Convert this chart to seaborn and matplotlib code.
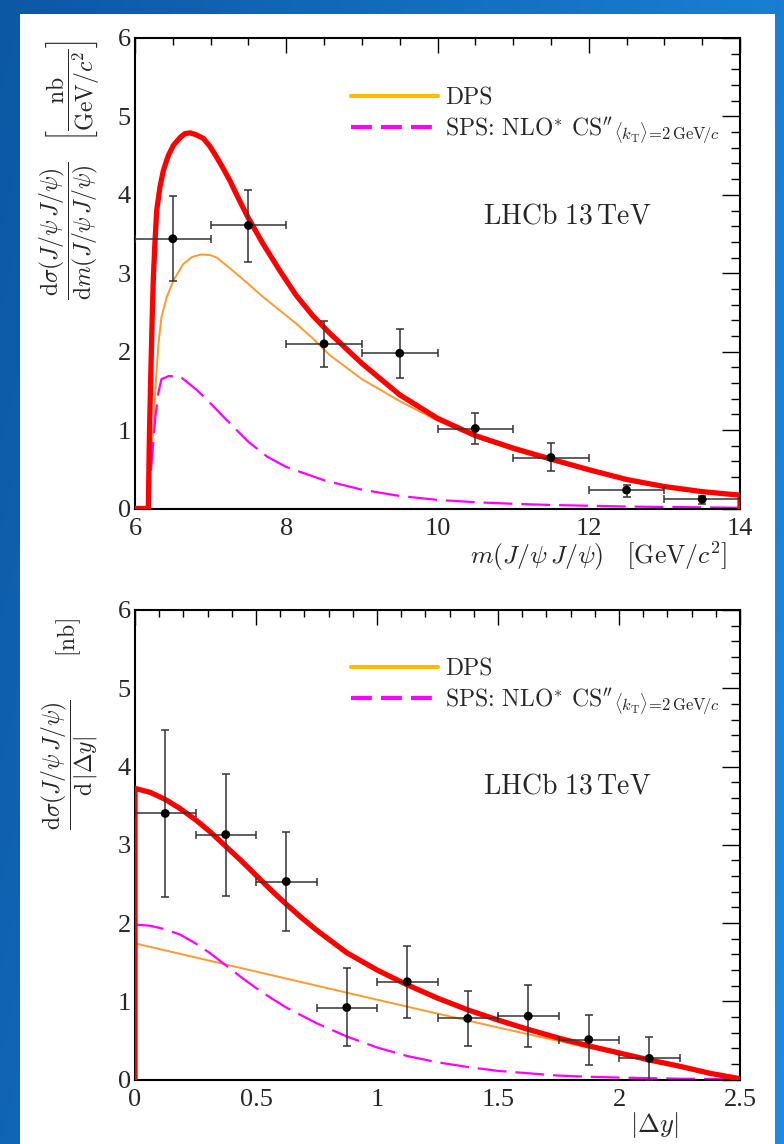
import numpy as np
import pandas as pd
import matplotlib
matplotlib.use("Agg")
import matplotlib.pyplot as plt
import seaborn as sns
from matplotlib.lines import Line2D
from matplotlib.patches import Rectangle
from matplotlib.ticker import MultipleLocator, FormatStrFormatter

# ---------------- data: top panel, m(J/psi J/psi) ----------------
m_center = [6.5, 7.5, 8.5, 9.5, 10.5, 11.5, 12.5, 13.5]
m_halfwidth = [0.5, 0.5, 0.5, 0.5, 0.5, 0.5, 0.5, 0.5]
m_xsec = [3.44, 3.61, 2.10, 1.98, 1.02, 0.65, 0.235, 0.117]
m_err_lo = [0.54, 0.47, 0.29, 0.31, 0.20, 0.17, 0.085, 0.055]
m_err_hi = [0.54, 0.45, 0.29, 0.31, 0.20, 0.18, 0.07, 0.045]

m_dps_x = [6.176, 6.2, 6.25, 6.28, 6.31, 6.35, 6.42, 6.51, 6.64, 6.76, 6.88, 7.0, 7.08,
           7.26, 7.48, 7.69, 7.91, 8.13, 8.35, 8.57, 9.0, 9.5, 10.0, 10.5, 11.0, 11.5,
           12.0, 12.5, 13.0, 13.5, 14.0]
m_dps_y = [0.0, 0.5, 1.13, 1.68, 2.10, 2.44, 2.70, 2.91, 3.12, 3.21, 3.24, 3.23, 3.20,
           3.06, 2.88, 2.70, 2.53, 2.36, 2.17, 1.96, 1.65, 1.37, 1.12, 0.91, 0.745, 0.61,
           0.48, 0.36, 0.27, 0.205, 0.16]

m_sps_x = [6.176, 6.22, 6.25, 6.27, 6.31, 6.35, 6.45, 6.6, 6.82, 7.04, 7.21, 7.5, 7.75,
           8.0, 8.5, 9.0, 9.5, 10.0, 10.5, 11.0, 11.5, 12.0, 12.5, 13.0, 13.5, 14.0]
m_sps_y = [0.0, 0.6, 0.95, 1.17, 1.48, 1.65, 1.69, 1.68, 1.51, 1.30, 1.13, 0.85, 0.66,
           0.53, 0.36, 0.24, 0.16, 0.11, 0.08, 0.06, 0.045, 0.035, 0.025, 0.02, 0.015, 0.01]

m_tot_x = [6.0, 6.176, 6.19, 6.208, 6.225, 6.243, 6.265, 6.287, 6.33, 6.375, 6.44, 6.507,
           6.596, 6.66, 6.727, 6.8, 6.903, 6.99, 7.08, 7.17, 7.255, 7.37, 7.49, 7.69, 7.91,
           8.13, 8.35, 8.57, 9.0, 9.5, 10.0, 10.5, 11.0, 11.5, 12.0, 12.5, 13.0, 13.5,
           14.0, 14.0]
m_tot_y = [0.0, 0.0, 0.9, 1.68, 2.35, 2.95, 3.42, 3.80, 4.10, 4.31, 4.50, 4.63, 4.73,
           4.78, 4.79, 4.77, 4.72, 4.62, 4.48, 4.33, 4.18, 3.95, 3.72, 3.38, 3.04, 2.72,
           2.46, 2.24, 1.85, 1.45, 1.15, 0.93, 0.77, 0.63, 0.495, 0.37, 0.28, 0.215,
           0.17, 0.0]

# ---------------- data: bottom panel, |Delta y| ----------------
dy_center = [0.125, 0.375, 0.625, 0.875, 1.125, 1.375, 1.625, 1.875, 2.125]
dy_halfwidth = [0.125] * 9
dy_xsec = [3.40, 3.13, 2.53, 0.92, 1.25, 0.78, 0.81, 0.51, 0.27]
dy_err_lo = [1.07, 0.79, 0.63, 0.49, 0.46, 0.35, 0.40, 0.33, 0.27]
dy_err_hi = [1.07, 0.78, 0.63, 0.50, 0.46, 0.35, 0.40, 0.31, 0.27]

dy_dps_x = [0.0, 0.5, 1.0, 1.5, 2.0, 2.5]
dy_dps_y = [1.74, 1.38, 1.02, 0.665, 0.32, 0.0]

dy_sps_x = [0.0, 0.0625, 0.125, 0.1875, 0.25, 0.3125, 0.375, 0.4375, 0.5, 0.5625, 0.625,
            0.75, 0.875, 1.0, 1.125, 1.25, 1.375, 1.5, 1.625, 1.75, 1.875, 2.0, 2.25, 2.5]
dy_sps_y = [1.98, 1.965, 1.92, 1.85, 1.74, 1.61, 1.46, 1.31, 1.17, 1.04, 0.92,
            0.72, 0.55, 0.41, 0.30, 0.22, 0.16, 0.11, 0.08, 0.05, 0.035, 0.025, 0.01, 0.005]

dy_tot_x = [0.0, 0.0, 0.0625, 0.125, 0.1875, 0.25, 0.3125, 0.375, 0.4375, 0.5, 0.5625,
            0.625, 0.6875, 0.75, 0.875, 1.0, 1.125, 1.25, 1.375, 1.5, 1.625, 1.75, 1.875,
            2.0, 2.125, 2.25, 2.375, 2.5]
dy_tot_y = [0.0, 3.72, 3.67, 3.58, 3.46, 3.32, 3.16, 2.98, 2.80, 2.61, 2.42,
            2.24, 2.07, 1.91, 1.62, 1.40, 1.21, 1.04, 0.89, 0.76, 0.64, 0.53, 0.43,
            0.34, 0.25, 0.17, 0.08, 0.01]

legend_dps = "DPS"
legend_sps = (r"SPS: NLO$^{*}$ CS$''_{\langle k_{\mathrm{T}}\rangle\!=\!2\,"
              r"\mathrm{GeV}\!/c}$")
lhcb_text = r"$\mathrm{LHCb}\ 13\,\mathrm{TeV}$"

# ---------------- style ----------------
sns.set_style("white")
plt.rcParams["font.family"] = ["Liberation Serif", "DejaVu Serif"]
plt.rcParams["mathtext.fontset"] = "cm"

W, H = 784, 1144
fig = plt.figure(figsize=(W / 100, H / 100), dpi=100)

# blue gradient background + white panel
bg = fig.add_axes([0, 0, 1, 1], zorder=-10)
gx = np.linspace(0, 1, 200)[None, :]
gy = np.linspace(0, 1, 200)[:, None]
t = np.clip(0.75 * gx + 0.25 * gy, 0, 1)
c0 = np.array([12, 88, 165]) / 255
c1 = np.array([30, 140, 225]) / 255
img = c0[None, None, :] * (1 - t[..., None]) + c1[None, None, :] * t[..., None]
bg.imshow(img, aspect="auto", extent=[0, 1, 0, 1], origin="upper")
bg.set_axis_off()
fig.patches.append(Rectangle((20 / W, 0), (775 - 20) / W, (H - 14) / H,
                             transform=fig.transFigure, facecolor="white",
                             edgecolor="none", zorder=-5))

left = 135 / W
width = (740 - 135) / W
ax1 = fig.add_axes([left, 1 - 508.5 / H, width, (508.5 - 38) / H])
ax2 = fig.add_axes([left, 1 - 1079.5 / H, width, (1079.5 - 610) / H])

RED = "#ff0000"
ORANGE = "#ff9a2e"
MAGENTA = "#ff00ff"
DASH = (13, 4)


def draw_curves(ax, dps_x, dps_y, sps_x, sps_y, tot_x, tot_y):
    sns.lineplot(x=dps_x, y=dps_y, ax=ax, color=ORANGE, lw=1.4, sort=False,
                 estimator=None, zorder=2)
    sns.lineplot(x=sps_x, y=sps_y, ax=ax, color=MAGENTA, lw=1.6, sort=False,
                 estimator=None, zorder=2)
    ax.lines[-1].set_dashes(DASH)
    sns.lineplot(x=tot_x, y=tot_y, ax=ax, color=RED, lw=3.8, sort=False,
                 estimator=None, zorder=3, solid_joinstyle="round")


def draw_data(ax, xc, xhw, yv, elo, ehi):
    ax.errorbar(xc, yv, xerr=xhw, yerr=[elo, ehi], fmt="none", ecolor="#333333",
                elinewidth=1.1, capsize=3.2, capthick=1.1, zorder=4)
    sns.scatterplot(x=xc, y=yv, ax=ax, color="black", s=40, edgecolor="none",
                    zorder=5, legend=False)


def style_axes(ax, xlim, xmaj, xmin):
    ax.set_xlim(*xlim)
    ax.set_ylim(0, 6)
    ax.xaxis.set_major_locator(MultipleLocator(xmaj))
    ax.xaxis.set_minor_locator(MultipleLocator(xmin))
    ax.yaxis.set_major_locator(MultipleLocator(1))
    ax.yaxis.set_minor_locator(MultipleLocator(0.2))
    ax.xaxis.set_major_formatter(FormatStrFormatter("%g"))
    for s in ax.spines.values():
        s.set_linewidth(1.5)
        s.set_color("black")
        s.set_visible(True)
    ax.tick_params(axis="both", which="both", direction="in", top=True, right=True,
                   color="black", width=1.0, labelsize=19)
    ax.tick_params(axis="y", which="major", length=13, pad=3)
    ax.tick_params(axis="y", which="minor", length=6.5)
    ax.tick_params(axis="x", which="major", length=11, pad=7)
    ax.tick_params(axis="x", which="minor", length=5)
    ax.set_xlabel("")
    ax.set_ylabel("")
    ax.grid(False)


def add_legend(ax, anchor):
    handles = [Line2D([], [], color="#ffbb00", lw=3.0),
               Line2D([], [], color=MAGENTA, lw=3.0, dashes=(5, 2.2))]
    ax.legend(handles, [legend_dps, legend_sps], loc="upper left",
              bbox_to_anchor=anchor, frameon=False,
              prop={"family": "cmr10", "size": 17},
              handlelength=3.7, handletextpad=0.3, labelspacing=0.25,
              borderpad=0, borderaxespad=0)


# ---------------- top panel ----------------
draw_curves(ax1, m_dps_x, m_dps_y, m_sps_x, m_sps_y, m_tot_x, m_tot_y)
draw_data(ax1, m_center, m_halfwidth, m_xsec, m_err_lo, m_err_hi)
style_axes(ax1, (6, 14), 2, 0.5)
add_legend(ax1, (0.357, 0.895))
ax1.text(0.575, 0.62, lhcb_text, transform=ax1.transAxes, fontsize=20,
         ha="left", va="center")
ax1.text(0.979, -0.101, r"$m(J/\psi\,J/\psi)\quad\left[\mathrm{GeV}/c^{2}\right]$",
         transform=ax1.transAxes, fontsize=18.5, ha="right", va="center")
fig.text(70 / W, 1 - 40 / H,
         r"$\dfrac{\mathrm{d}\sigma(J/\psi\,J/\psi)}{\mathrm{d}m(J/\psi\,J/\psi)}\quad"
         r"\left[\dfrac{\mathrm{nb}}{\mathrm{GeV}/c^{2}}\right]$",
         rotation=90, ha="center", va="top", fontsize=17)

# ---------------- bottom panel ----------------
draw_curves(ax2, dy_dps_x, dy_dps_y, dy_sps_x, dy_sps_y, dy_tot_x, dy_tot_y)
draw_data(ax2, dy_center, dy_halfwidth, dy_xsec, dy_err_lo, dy_err_hi)
style_axes(ax2, (0, 2.5), 0.5, 0.1)
add_legend(ax2, (0.357, 0.897))
ax2.text(0.575, 0.623, lhcb_text, transform=ax2.transAxes, fontsize=20,
         ha="left", va="center")
ax2.text(0.858, -0.097, r"$|\Delta y|$", transform=ax2.transAxes, fontsize=19,
         ha="center", va="center")
fig.text(70 / W, 1 - 618 / H,
         r"$\dfrac{\mathrm{d}\sigma(J/\psi\,J/\psi)}{\mathrm{d}\,|\Delta y|}\qquad[\mathrm{nb}]$",
         rotation=90, ha="center", va="top", fontsize=17)

fig.savefig("out.png", dpi=100)
